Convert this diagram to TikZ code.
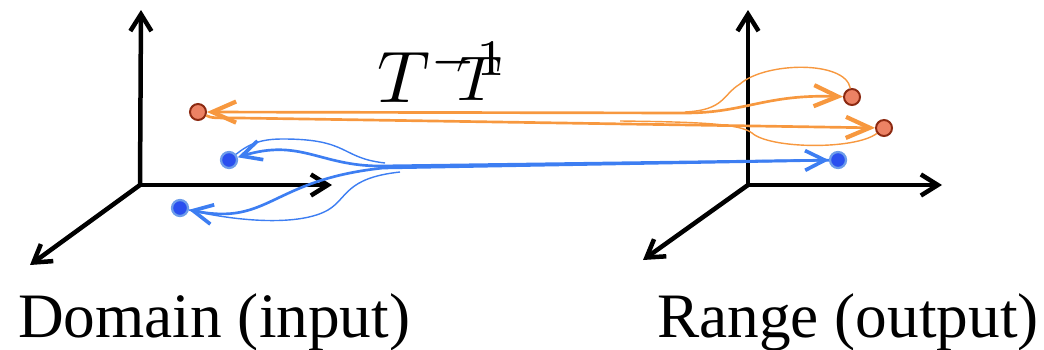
\documentclass[tikz,border=0pt]{standalone}
\usepackage{fontspec}
\usepackage{tikz}
\usetikzlibrary{arrows.meta,positioning}
\newfontfamily\labelfont{Liberation Serif}
\definecolor{MapOrange}{HTML}{F7983F}
\definecolor{DotSalmon}{HTML}{EC8264}
\definecolor{DotRust}{HTML}{8C2A12}
\definecolor{MapBlue}{HTML}{3D7EF2}
\definecolor{DotBlue}{HTML}{2A4FEF}
\definecolor{HaloBlue}{HTML}{6D9DEA}

\begin{document}
\begin{tikzpicture}[
    x=0.025cm, y=-0.025cm,
    axis/.style={line width=3.2pt, line cap=round, -{Straight Barb[length=12pt, width=15pt, line width=3.2pt]}},
    otip/.tip={Straight Barb[length=17pt, width=15pt, line width=3pt]},
    btip/.tip={Straight Barb[length=14pt, width=14pt, line width=2.6pt]},
    oline/.style={draw=MapOrange, line width=1.9pt},
    othin/.style={draw=MapOrange, line width=1pt},
    bline/.style={draw=MapBlue, line width=1.9pt},
    bthin/.style={draw=MapBlue, line width=1pt},
    odot/.style={circle, draw=DotRust, fill=DotSalmon, line width=1.4pt, minimum size=0.4cm, inner sep=0pt},
    bdot/.style={circle, draw=HaloBlue, fill=DotBlue, line width=1.6pt, minimum size=0.4cm, inner sep=0pt},
    caption/.style={anchor=base west, inner sep=0pt, font=\labelfont\fontsize{45}{50}\selectfont},
    mapname/.style={anchor=base west, inner sep=0pt}
]
\useasboundingbox (0,0) rectangle (1044,349);

% domain axes
\coordinate (dO) at (140,185);
\coordinate (dUp) at (141,10);
\coordinate (dX) at (332,185);
\coordinate (dZ) at (30,265);
\draw[axis] (dO) -- (dUp);
\draw[axis] (dO) -- (dX);
\draw[axis] (dO) -- (dZ);

% range axes
\coordinate (rO) at (748,185);
\coordinate (rUp) at (748,10);
\coordinate (rX) at (942,185);
\coordinate (rZ) at (643,260);
\draw[axis] (rO) -- (rUp);
\draw[axis] (rO) -- (rX);
\draw[axis] (rO) -- (rZ);

% points
\node[odot] (o1) at (198,112) {};
\node[odot] (o2) at (852,97) {};
\node[odot] (o3) at (884,128) {};
\node[bdot] (b1) at (229,160) {};
\node[bdot] (b2) at (180,208) {};
\node[bdot] (b3) at (838,160) {};

% orange mapping
\draw[oline, otip-otip] (o1) -- (685,113) .. controls (745,113) and (765,94) .. (o2);
\draw[oline, -otip] (o1) .. controls (212,118) .. (240,118) -- (o3);
\draw[othin] (685,112) .. controls (725,110) and (722,95) .. (740,84) .. controls (765,62) and (845,60) .. (o2);
\draw[othin] (620,121) .. controls (705,122) and (740,124) .. (752,133) .. controls (770,149) and (855,150) .. (o3);

% blue mapping
\draw[bline, btip-btip] (b1) .. controls (300,138) and (320,166) .. (380,166) -- (b3);
\draw[bline, btip-] (b2) .. controls (270,226) and (270,180) .. (383,168) -- (b3);
\draw[bthin] (385,163) .. controls (340,158) and (350,139) .. (283,139) .. controls (262,139) and (250,143) .. (b1);
\draw[bthin] (400,172) .. controls (345,178) and (348,198) .. (328,210) .. controls (300,226) and (240,222) .. (b2);

% labels
\node[mapname, scale=5.2] (Tinv) at (376,102) {$T^{-1}$};
\node[mapname, scale=4.5] (Tfwd) at (455,100) {$T$};
\node[caption] (domain) at (18,337) {Domain (input)};
\node[caption] (range) at (657,337) {Range (output)};
\end{tikzpicture}
\end{document}
